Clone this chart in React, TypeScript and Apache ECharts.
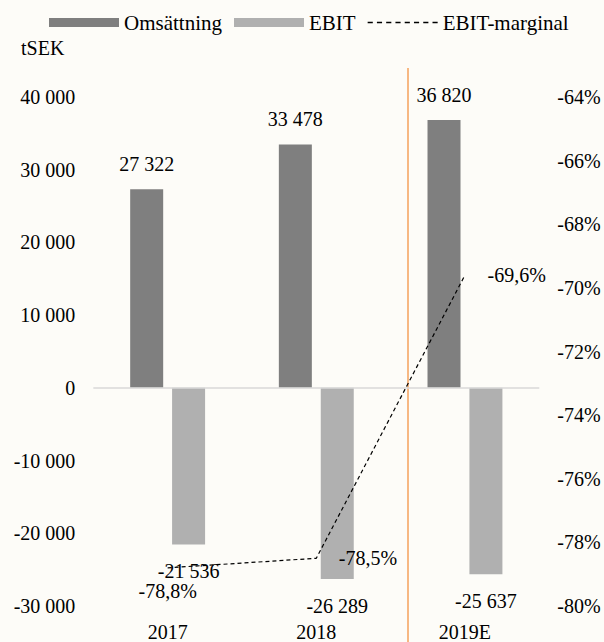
import React, { useEffect, useRef } from "react";
import * as echarts from "echarts";

const categories = ["2017", "2018", "2019E"];
const omsattning = [27322, 33478, 36820];
const ebit = [-21536, -26289, -25637];
const ebitMarginal = [-78.8, -78.5, -69.6];
const marginLabelPos = ["bottom", "right", "right"];

const FONT = "Liberation Serif";

function fmtNum(v: number): string {
  const s = Math.abs(Math.round(v)).toString().replace(/\B(?=(\d{3})+(?!\d))/g, " ");
  return (v < 0 ? "-" : "") + s;
}

let dashPath = "path://";
for (let i = 0; i < 8; i++) {
  const x = i * 9;
  dashPath += `M${x},0 h5 v1.3 h-5 Z `;
}

export default function App() {
  const ref = useRef<HTMLDivElement>(null);
  useEffect(() => {
    if (!ref.current) return;
    const chart = echarts.init(ref.current, undefined, { renderer: "svg" });
    const ts = { fontFamily: FONT, fontSize: 20, color: "#000" };
    chart.setOption({
      animation: false,
      backgroundColor: "#fdfcf8",
      textStyle: ts,
      title: {
        text: "tSEK",
        left: 21,
        top: 38,
        padding: 0,
        textStyle: { ...ts, fontWeight: "normal" },
      },
      legend: {
        left: 49,
        top: 12,
        padding: 0,
        itemWidth: 70,
        itemHeight: 9,
        itemGap: 12,
        textStyle: { ...ts, fontSize: 21 },
        data: [
          { name: "Omsättning", icon: "rect" },
          { name: "EBIT", icon: "rect" },
          { name: "EBIT-marginal", icon: dashPath },
        ],
      },
      grid: { left: 93.3, right: 64.7, top: 97, bottom: 35, containLabel: false },
      xAxis: {
        type: "category",
        data: categories,
        axisLine: { show: false, onZero: false },
        axisTick: { show: false },
        axisLabel: { ...ts, margin: 16 },
      },
      yAxis: [
        {
          type: "value",
          min: -30000,
          max: 40000,
          interval: 10000,
          splitLine: { show: false },
          axisLine: { show: false },
          axisTick: { show: false },
          axisLabel: { ...ts, margin: 18, formatter: (v: number) => fmtNum(v) },
        },
        {
          type: "value",
          min: -80,
          max: -64,
          interval: 2,
          splitLine: { show: false },
          axisLine: { show: false },
          axisTick: { show: false },
          axisLabel: { ...ts, margin: 18, formatter: (v: number) => v + "%" },
        },
      ],
      series: [
        {
          name: "Omsättning",
          type: "bar",
          data: omsattning,
          barWidth: 33,
          barGap: "27%",
          itemStyle: { color: "#7f7f7f" },
          label: {
            show: true,
            position: "top",
            distance: 15,
            ...ts,
            formatter: (p: any) => fmtNum(p.value),
          },
          markLine: {
            silent: true,
            symbol: "none",
            label: { show: false },
            lineStyle: { color: "#d9d9d9", type: "solid", width: 1.5 },
            data: [{ yAxis: 0 }],
          },
        },
        {
          name: "EBIT",
          type: "bar",
          data: ebit,
          barWidth: 33,
          itemStyle: { color: "#b0b0b0" },
          label: {
            show: true,
            position: "bottom",
            distance: 17,
            ...ts,
            formatter: (p: any) => fmtNum(p.value),
          },
        },
        {
          name: "EBIT-marginal",
          type: "line",
          yAxisIndex: 1,
          symbol: "none",
          lineStyle: { color: "#000", width: 1.2, type: [4, 3] },
          itemStyle: { color: "#000" },
          data: ebitMarginal,
        },
        {
          name: "EBIT-marginal-labels",
          type: "scatter",
          yAxisIndex: 1,
          symbolSize: 1,
          itemStyle: { color: "rgba(0,0,0,0)", opacity: 1 },
          silent: true,
          label: {
            show: true,
            ...ts,
            opacity: 1,
            formatter: (p: any) => p.value.toFixed(1).replace(".", ",") + "%",
          },
          data: ebitMarginal.map((v, i) => ({
            value: v,
            label: {
              position: marginLabelPos[i],
              distance: marginLabelPos[i] === "bottom" ? 13 : 22,
            },
          })),
        },
      ],
      graphic: [
        {
          type: "line",
          silent: true,
          shape: { x1: 408, y1: 68, x2: 408, y2: 642 },
          style: { stroke: "#f5a25d", lineWidth: 1.5 },
        },
      ],
    });
    return () => chart.dispose();
  }, []);
  return (
    <div
      ref={ref}
      style={{ position: "fixed", left: 0, top: 0, width: 604, height: 642 }}
    />
  );
}
